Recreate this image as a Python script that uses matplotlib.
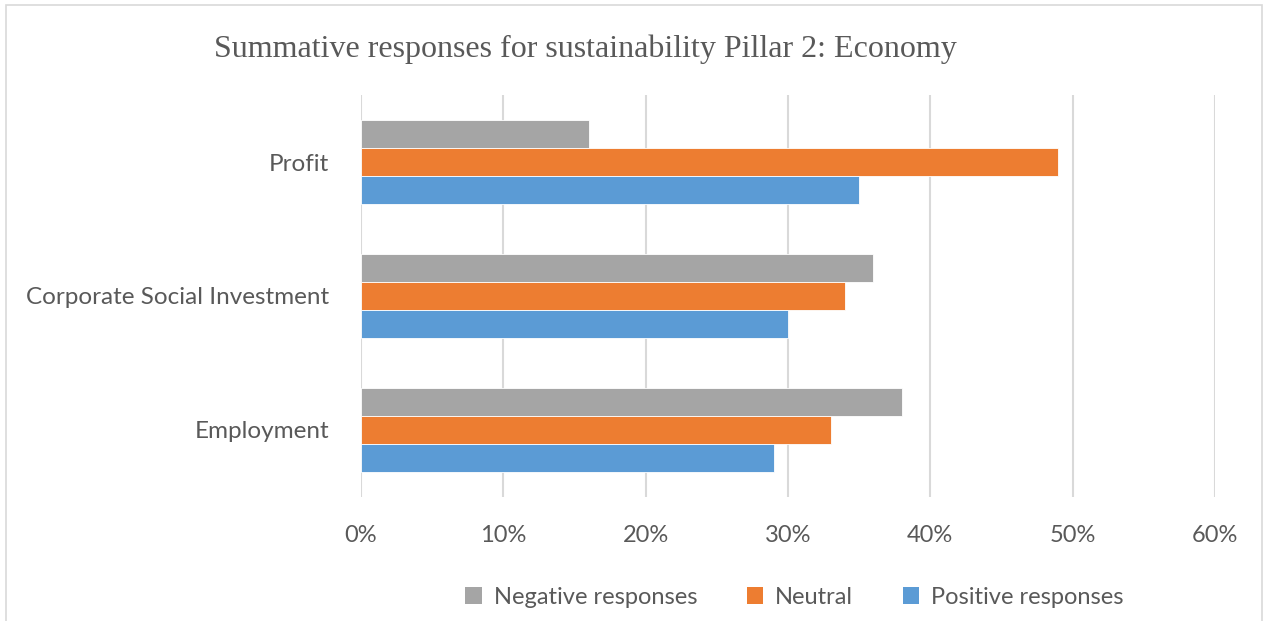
import numpy as np
import matplotlib
matplotlib.use("Agg")
import matplotlib.pyplot as plt
from matplotlib.patches import Patch, Rectangle
from matplotlib.ticker import PercentFormatter

# Survey results, Pillar 2 (Economy), share of responses in %
categories = ["Employment", "Corporate Social Investment", "Profit"]
negative = [38, 36, 16]
neutral = [33, 34, 49]
positive = [29, 30, 35]

series_names = ["Negative responses", "Neutral", "Positive responses"]
colors = ["#a5a5a5", "#ed7d31", "#5b9bd5"]
text_color = "#595959"

plt.rcParams["font.family"] = ["Lato", "DejaVu Sans"]

fig = plt.figure(figsize=(12.65, 6.21), dpi=100)
ax = fig.add_axes([0.2854, 0.1997, 0.6751, 0.6473])

y = np.arange(len(categories))
h = 0.209
for vals, offset, c in zip([negative, neutral, positive], [h, 0, -h], colors):
    ax.barh(y + offset, vals, height=h, color=c, edgecolor="white", linewidth=0.6)

ax.set_xlim(0, 60)
ax.set_ylim(-0.5, 2.5)
ax.set_xticks(range(0, 61, 10))
ax.xaxis.set_major_formatter(PercentFormatter(decimals=0))
ax.set_yticks(y)
ax.set_yticklabels(categories)
ax.tick_params(axis="both", length=0, colors=text_color)
ax.tick_params(axis="x", pad=20, labelsize=17)
ax.tick_params(axis="y", pad=23, labelsize=17.5)
ax.grid(axis="x", color="#d9d9d9", linewidth=1.5)
ax.set_axisbelow(True)
for s in ax.spines.values():
    s.set_visible(False)

fig.text(0.463, 0.92, "Summative responses for sustainability Pillar 2: Economy",
         family="Liberation Serif", fontsize=23, color=text_color,
         ha="center", va="center")

handles = [Patch(facecolor=c, edgecolor="none") for c in colors]
fig.legend(handles, series_names, loc="center", bbox_to_anchor=(0.628, 0.038),
           ncol=3, frameon=False, fontsize=17, labelcolor=text_color,
           handlelength=0.7, handleheight=0.7, handletextpad=0.5,
           columnspacing=2.1)

# light frame round the chart area
fig.patches.append(Rectangle((0.005, -0.01), 0.993, 1.002, transform=fig.transFigure,
                             fill=False, edgecolor="#d9d9d9", linewidth=1.2))

fig.savefig("out.png", dpi=100)
